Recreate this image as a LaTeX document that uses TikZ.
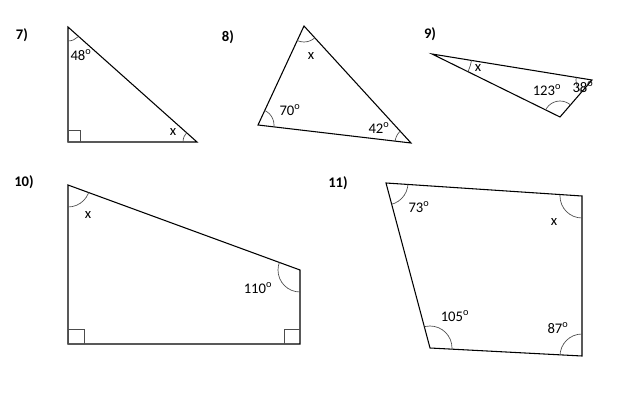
\documentclass[tikz,border=0pt]{standalone}
\usepackage{fontspec}
\setmainfont{Carlito}
\begin{document}
\begin{tikzpicture}[x=0.75pt,y=-0.75pt,line width=0.8pt,
  lbl/.style={font=\fontsize{11}{12}\selectfont,inner sep=0pt},
  num/.style={font=\bfseries\fontsize{11}{12}\selectfont,inner sep=0pt},
  arcl/.style={line width=0.5pt,draw=black!70}]
\useasboundingbox[fill=white] (0,0) rectangle (640,414);
\newcommand{\dg}{\textsuperscript{o}}
% 7
\coordinate (a1) at (68,27); \coordinate (a2) at (68,142); \coordinate (a3) at (197,142);
\draw (a1)--(a2)--(a3)--cycle;
\begin{scope}\clip (a1)--(a2)--(a3)--cycle;
\draw[arcl] (a1) circle (14); \draw[arcl] (a3) circle (14);
\draw[arcl] (68,130) rectangle (80,142);\end{scope}
\node[num] (n7) at (22,35) {7)};
\node[lbl] (t7a) at (81,55) {48\dg};
\node[lbl] (t7b) at (173,132) {x};
% 8
\coordinate (b1) at (304,26); \coordinate (b2) at (258,125); \coordinate (b3) at (411,143);
\draw (b1)--(b2)--(b3)--cycle;
\begin{scope}\clip (b1)--(b2)--(b3)--cycle;
\draw[arcl] (b1) circle (16); \draw[arcl] (b2) circle (16); \draw[arcl] (b3) circle (16);\end{scope}
\node[num] (n8) at (228,37) {8)};
\node[lbl] (t8a) at (311,56) {x};
\node[lbl] (t8b) at (290,110) {70\dg};
\node[lbl] (t8c) at (379,128) {42\dg};
% 9
\coordinate (c1) at (432,54); \coordinate (c2) at (592,80); \coordinate (c3) at (560,117);
\draw (c1)--(c2)--(c3)--cycle;
\begin{scope}\clip (c1)--(c2)--(c3)--cycle;
\draw[arcl] (c1) circle (40); \draw[arcl] (c2) circle (16); \draw[arcl] (c3) circle (16);\end{scope}
\node[num] (n9) at (430,34) {9)};
\node[lbl] (t9a) at (478,68) {x};
\node[lbl] (t9b) at (547,90) {123\dg};
\node[lbl] (t9c) at (583,87) {38\dg};
% 10
\coordinate (d1) at (68,185); \coordinate (d2) at (300,270); \coordinate (d3) at (300,344); \coordinate (d4) at (68,344);
\draw (d1)--(d2)--(d3)--(d4)--cycle;
\begin{scope}\clip (d1)--(d2)--(d3)--(d4)--cycle;
\draw[arcl] (d1) circle (22); \draw[arcl] (d2) circle (22);
\draw[arcl] (68,329) rectangle (84,344); \draw[arcl] (284,329) rectangle (300,344);\end{scope}
\node[num] (n10) at (24,182) {10)};
\node[lbl] (t10a) at (88,215) {x};
\node[lbl] (t10b) at (258,288) {110\dg};
% 11
\coordinate (e1) at (386,183); \coordinate (e2) at (582,196); \coordinate (e3) at (582,356); \coordinate (e4) at (430,348);
\draw (e1)--(e2)--(e3)--(e4)--cycle;
\begin{scope}\clip (e1)--(e2)--(e3)--(e4)--cycle;
\draw[arcl] (e1) circle (22); \draw[arcl] (e2) circle (22); \draw[arcl] (e3) circle (22); \draw[arcl] (e4) circle (22);\end{scope}
\node[num] (n11) at (338,183) {11)};
\node[lbl] (t11a) at (419,207) {73\dg};
\node[lbl] (t11b) at (554,222) {x};
\node[lbl] (t11c) at (455,316) {105\dg};
\node[lbl] (t11d) at (558,328) {87\dg};
\end{tikzpicture}
\end{document}
